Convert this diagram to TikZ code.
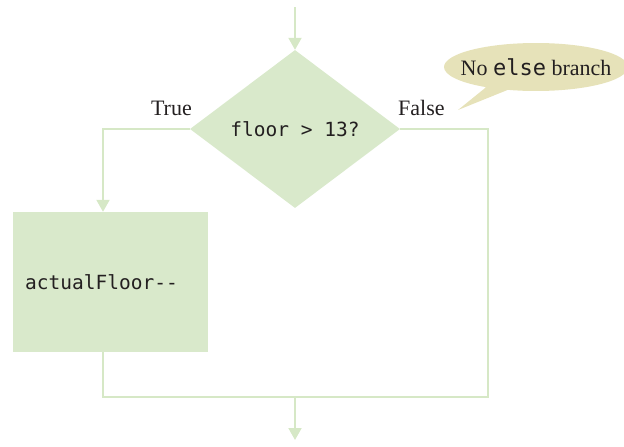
\documentclass[tikz,border=0pt]{standalone}
\usepackage{fontspec}
\setmainfont{Liberation Serif}
\setmonofont{DejaVu Sans Mono}
\usetikzlibrary{shapes.geometric,shapes.callouts,arrows.meta}
\definecolor{flowfill}{HTML}{D9E9CB}
\definecolor{flowline}{HTML}{D6E8C6}
\definecolor{calloutfill}{HTML}{E6E2B9}
\definecolor{inktext}{HTML}{231F20}
\begin{document}
\begin{tikzpicture}[x=1pt,y=-1pt,
  flow/.style={draw=flowline,line width=2pt},
  arr/.style={flow,-{Triangle[width=13pt,length=12pt]}},
  codefont/.style={font=\ttfamily\fontsize{19.5}{22}\selectfont},
  decision/.style={diamond,fill=flowfill,inner sep=0pt,minimum width=210pt,minimum height=158pt,codefont,text=inktext},
  stepbox/.style={rectangle,fill=flowfill,inner sep=0pt,minimum width=195pt,minimum height=140pt,text=inktext},
  lbl/.style={font=\fontsize{22}{24}\selectfont,text=inktext,inner sep=0pt},
  note/.style={ellipse callout,fill=calloutfill,inner xsep=-25pt,inner ysep=-4pt,minimum width=184pt,minimum height=48pt,text=inktext,font=\fontsize{22}{24}\selectfont}
]
\useasboundingbox (0,0) rectangle (624,447);
\node[decision] (dec) at (295,129) {floor > 13?};
\node[stepbox] (box) at (110.5,282) {};
\node[codefont,text=inktext,anchor=west,inner sep=0pt] (boxtext) at (25,282) {actualFloor-{}-};
\coordinate (start) at (295,7);
\coordinate (lcorner) at (103,129);
\coordinate (rcorner) at (488,129);
\coordinate (bl) at (103,397);
\coordinate (br) at (488,397);
\coordinate (join) at (295,397);
\coordinate (finish) at (295,440);
\draw[arr] (start) -- (dec.north);
\draw[arr] (dec.west) -- (lcorner) -- (lcorner |- box.north);
\draw[flow] (dec.east) -- (rcorner) -- (br) -- (bl) -- (bl |- box.south);
\draw[arr] (join) -- (finish);
\node[lbl,anchor=south east] (ltrue) at (192,116) {True};
\node[lbl,anchor=south west] (lfalse) at (398,116) {False};
\node[note,callout absolute pointer={(458,110)}] (callout) at (536,67) {No \texttt{else} branch};
\end{tikzpicture}
\end{document}
